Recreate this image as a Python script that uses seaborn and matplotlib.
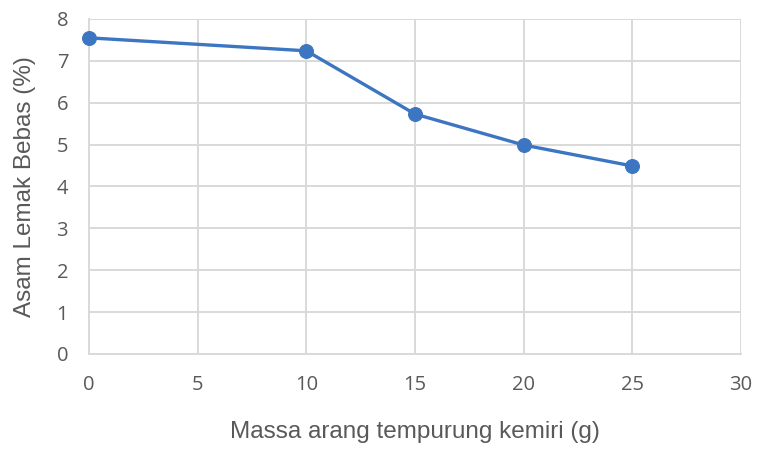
import pandas as pd
import seaborn as sns
import matplotlib.pyplot as plt

massa = [0, 10, 15, 20, 25]
asam_lemak = [7.55, 7.24, 5.73, 4.99, 4.49]
x_ticks = [0, 5, 10, 15, 20, 25, 30]
y_ticks = [0, 1, 2, 3, 4, 5, 6, 7, 8]

GRID = '#d9d9d9'
TEXT = '#595959'
BLUE = '#3c75c1'


def main():
    sns.set_style('white')
    plt.rcParams['font.family'] = ['Liberation Sans', 'DejaVu Sans']

    fig = plt.figure(figsize=(7.58, 4.49), dpi=100)
    ax = fig.add_axes([0.1174, 0.2116, 0.8602, 0.7461])

    df = pd.DataFrame({'massa': massa, 'asam': asam_lemak})
    sns.lineplot(data=df, x='massa', y='asam', ax=ax, color=BLUE,
                 linewidth=2.4, marker='o', markersize=10,
                 markeredgecolor=BLUE, zorder=3, clip_on=False)

    ax.set_xlim(0, 30)
    ax.set_ylim(0, 8)
    ax.set_xticks(x_ticks)
    ax.set_yticks(y_ticks)
    ax.grid(True, color=GRID, linewidth=1.4)
    for side in ['top', 'right']:
        ax.spines[side].set_visible(False)
    for side in ['left', 'bottom']:
        ax.spines[side].set_color(GRID)
        ax.spines[side].set_linewidth(1.4)
    ax.tick_params(length=0, colors=TEXT, labelsize=14.5, pad=15)
    for lbl in ax.get_xticklabels() + ax.get_yticklabels():
        lbl.set_family(['Open Sans', 'DejaVu Sans'])

    ax.set_xlabel('Massa arang tempurung kemiri (g)', fontsize=17.5,
                  color=TEXT, labelpad=19)
    ax.set_ylabel('Asam Lemak Bebas (%)', fontsize=17.5, color=TEXT,
                  labelpad=15)

    fig.savefig('out.png', dpi=100)
    plt.close(fig)


if __name__ == '__main__':
    main()
